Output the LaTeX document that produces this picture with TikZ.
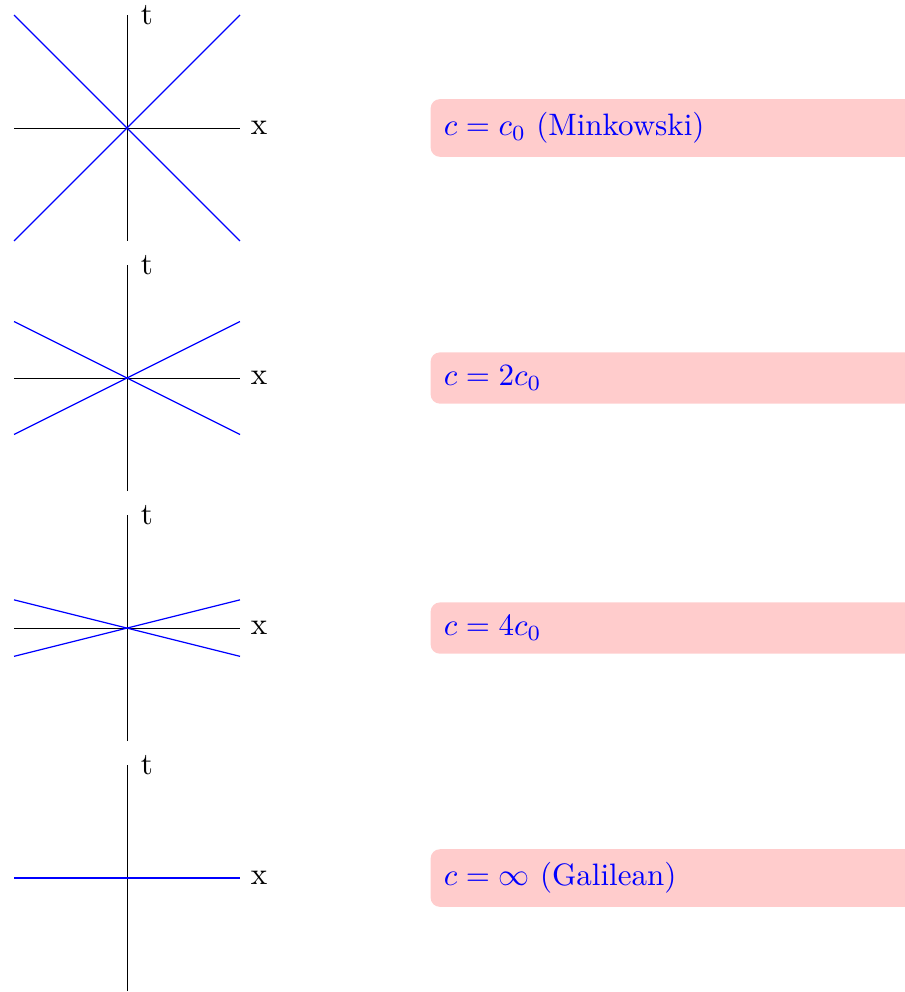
\documentclass[tikz,border=0pt]{standalone}
\usetikzlibrary{positioning}

\newcommand{\halfaxis}{1.281}

\begin{document}
\begin{tikzpicture}[
        axis/.style={
            draw=black, line width=0.3pt
        },
        cone/.style={
            draw=blue, line width=0.4pt
        },
        caption/.style={
            rectangle, fill=red!20, text=blue, rounded corners=3pt,
            anchor=west, inner sep=4.3pt, text width=5.6cm, align=left
        }
    ]
        \useasboundingbox (-1.44,1.451) rectangle (8.81,-9.796);

        % ----------------------------------------------------
        % PANEL 1: c = c0
        % ----------------------------------------------------
        \begin{scope}
            \draw[axis] (-\halfaxis,0) -- (\halfaxis,0) node[right] (x1) {x};
            \draw[axis] (0,-\halfaxis) -- (0,\halfaxis) node[right, xshift=1pt] (t1) {t};
            \draw[cone] (-\halfaxis,-\halfaxis) -- (\halfaxis,\halfaxis);
            \draw[cone] (-\halfaxis,\halfaxis) -- (\halfaxis,-\halfaxis);
            \node[caption] (mink) at (3.435,0) {$c = c_0$ (Minkowski)};
        \end{scope}

        % ----------------------------------------------------
        % PANEL 2: c = 2c0
        % ----------------------------------------------------
        \begin{scope}[shift={(0,-2.835)}]
            \draw[axis] (-\halfaxis,0) -- (\halfaxis,0) node[right] (x2) {x};
            \draw[axis] (0,-\halfaxis) -- (0,\halfaxis) node[right, xshift=1pt] (t2) {t};
            \draw[cone] (-\halfaxis,-\halfaxis/2) -- (\halfaxis,\halfaxis/2);
            \draw[cone] (-\halfaxis,\halfaxis/2) -- (\halfaxis,-\halfaxis/2);
            \node[caption] (twice) at (3.435,0) {$c = 2c_0$};
        \end{scope}

        % ----------------------------------------------------
        % PANEL 3: c = 4c0
        % ----------------------------------------------------
        \begin{scope}[shift={(0,-5.67)}]
            \draw[axis] (-\halfaxis,0) -- (\halfaxis,0) node[right] (x3) {x};
            \draw[axis] (0,-\halfaxis) -- (0,\halfaxis) node[right, xshift=1pt] (t3) {t};
            \draw[cone] (-\halfaxis,-\halfaxis/4) -- (\halfaxis,\halfaxis/4);
            \draw[cone] (-\halfaxis,\halfaxis/4) -- (\halfaxis,-\halfaxis/4);
            \node[caption] (four) at (3.435,0) {$c = 4c_0$};
        \end{scope}

        % ----------------------------------------------------
        % PANEL 4: c = infinity
        % ----------------------------------------------------
        \begin{scope}[shift={(0,-8.504)}]
            \draw[axis] (-\halfaxis,0) -- (\halfaxis,0) node[right] (x4) {x};
            \draw[axis] (0,-\halfaxis) -- (0,\halfaxis) node[right, xshift=1pt] (t4) {t};
            \draw[cone] (-\halfaxis,0) -- (\halfaxis,0);
            \draw[cone, line width=0.8pt] (-\halfaxis,0) -- (\halfaxis,0);
            \node[caption] (galilei) at (3.435,0) {$c = \infty$ (Galilean)};
        \end{scope}

    \end{tikzpicture}
\end{document}
